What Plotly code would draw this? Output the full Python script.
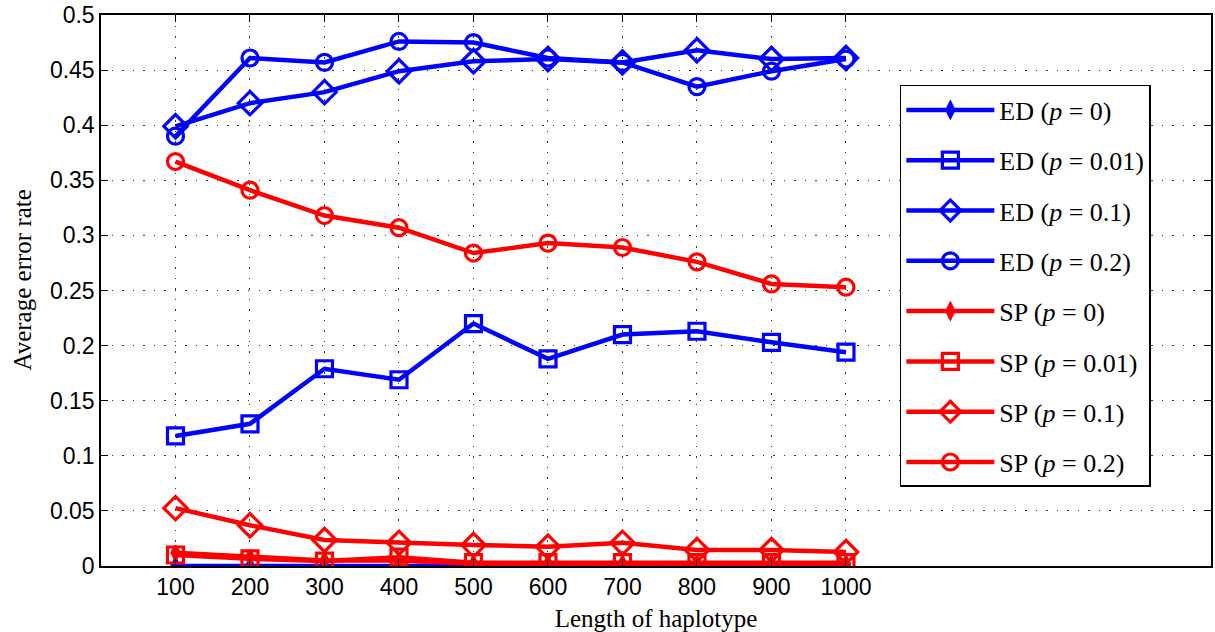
import plotly.graph_objects as go

lengths = [100, 200, 300, 400, 500, 600, 700, 800, 900, 1000]

ed_p0 = [0.0, 0.0, 0.0, 0.001, 0.0, 0.0, 0.0, 0.0, 0.0, 0.0]
ed_p001 = [0.118, 0.129, 0.179, 0.169, 0.220, 0.188, 0.210, 0.213, 0.203, 0.194]
ed_p01 = [0.399, 0.420, 0.430, 0.449, 0.458, 0.460, 0.457, 0.468, 0.460, 0.461]
ed_p02 = [0.390, 0.461, 0.457, 0.476, 0.475, 0.461, 0.457, 0.435, 0.449, 0.460]

sp_p0 = [0.012, 0.008, 0.005, 0.005, 0.002, 0.002, 0.002, 0.002, 0.002, 0.002]
sp_p001 = [0.010, 0.0065, 0.0045, 0.008, 0.003, 0.003, 0.003, 0.003, 0.003, 0.003]
sp_p01 = [0.0525, 0.037, 0.0236, 0.021, 0.019, 0.0175, 0.021, 0.0145, 0.0145, 0.0127]
sp_p02 = [0.367, 0.341, 0.318, 0.307, 0.284, 0.293, 0.289, 0.276, 0.256, 0.253]

y_ticks = [0, 0.05, 0.1, 0.15, 0.2, 0.25, 0.3, 0.35, 0.4, 0.45, 0.5]
y_labels = ["0", "0.05", "0.1", "0.15", "0.2", "0.25", "0.3", "0.35", "0.4", "0.45", "0.5"]

series = [
    ("ED (<i>p</i>&nbsp;=&nbsp;0)", ed_p0, "#0000ff", "diamond-tall"),
    ("ED (<i>p</i>&nbsp;=&nbsp;0.01)", ed_p001, "#0000ff", "square-open"),
    ("ED (<i>p</i>&nbsp;=&nbsp;0.1)", ed_p01, "#0000ff", "diamond-open"),
    ("ED (<i>p</i>&nbsp;=&nbsp;0.2)", ed_p02, "#0000ff", "circle-open"),
    ("SP (<i>p</i>&nbsp;=&nbsp;0)", sp_p0, "#ff0000", "diamond-tall"),
    ("SP (<i>p</i>&nbsp;=&nbsp;0.01)", sp_p001, "#ff0000", "square-open"),
    ("SP (<i>p</i>&nbsp;=&nbsp;0.1)", sp_p01, "#ff0000", "diamond-open"),
    ("SP (<i>p</i>&nbsp;=&nbsp;0.2)", sp_p02, "#ff0000", "circle-open"),
]

SERIF = "Liberation Serif, DejaVu Serif, serif"
SANS = "Liberation Sans, Arial, sans-serif"

fig = go.Figure()
for i, (name, vals, col, sym) in enumerate(series):
    if sym == "diamond-tall":
        size = 10
    elif sym == "diamond-open":
        size = 18
    else:
        size = 16
    fig.add_trace(go.Scatter(
        x=lengths, y=vals, name=name, mode="lines+markers",
        line=dict(color=col, width=4.5),
        marker=dict(symbol=sym, size=size, color=col, line=dict(color=col, width=3.2)),
        legendgroup=f"g{i}",
    ))

axis_common = dict(
    showline=True, linecolor="black", linewidth=1.5, mirror="ticks",
    ticks="inside", ticklen=7, tickcolor="black", tickwidth=1,
    showgrid=True, gridcolor="#333333", griddash="1.5px,9px", gridwidth=1,
    zeroline=False,
    tickfont=dict(family=SANS, size=23, color="black"),
)

fig.update_xaxes(
    range=[0, 1490], tickvals=lengths, ticktext=[str(v) for v in lengths],
    title=dict(text="Length of haplotype", font=dict(family=SERIF, size=25, color="black"), standoff=10),
    **axis_common,
)
fig.update_yaxes(
    range=[0, 0.5], tickvals=y_ticks, ticktext=y_labels,
    **axis_common,
)

fig.add_annotation(
    text="Average error rate", xref="paper", yref="paper", x=0, y=0.5,
    xanchor="center", yanchor="middle", xshift=-79, yshift=10, textangle=-90,
    showarrow=False, font=dict(family=SERIF, size=25, color="black"),
)

fig.update_layout(
    width=1215, height=632,
    margin=dict(l=101, r=2, t=14, b=66),
    plot_bgcolor="white", paper_bgcolor="white",
    showlegend=True,
    legend=dict(
        x=0.7197, y=0.873, xanchor="left", yanchor="top",
        bgcolor="white", bordercolor="black", borderwidth=1.5,
        font=dict(family=SERIF, size=26, color="black"),
        itemwidth=88, tracegroupgap=13.5,
    ),
)

fig.write_html("out.html", config={"displayModeBar": False},
               post_script="document.body.style.margin='0';document.body.style.padding='0';")
